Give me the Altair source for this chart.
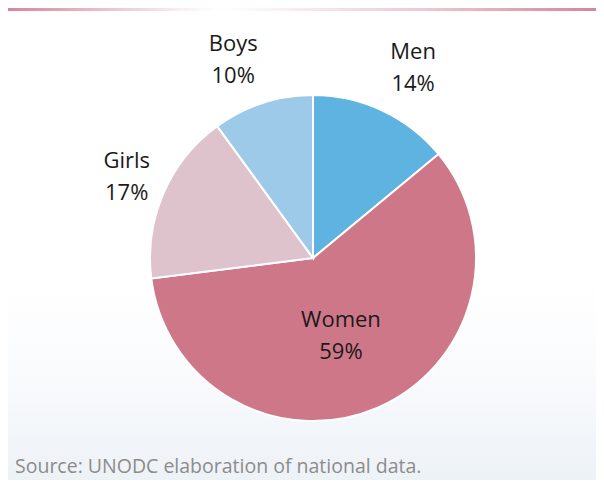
import altair as alt
import pandas as pd
import math

groups = ["Men", "Women", "Girls", "Boys"]
shares = [14, 59, 17, 10]
colors = ["#5EB3E1", "#CE7789", "#DEC3CC", "#9DCAE9"]
source_note = "Source: UNODC elaboration of national data."

df = pd.DataFrame({"group": groups, "share": shares, "ord": list(range(len(groups)))})
df["label"] = df["group"] + "\n" + df["share"].astype(str) + "%"

W, H = 588, 472
CX, CY = 305, 250
R = 163
FONT = "Open Sans"

base = alt.Chart(df)

bg = alt.Chart(pd.DataFrame({"a": [0]})).mark_rect(
    fill={
        "gradient": "linear", "x1": 0, "y1": 0, "x2": 0, "y2": 1,
        "stops": [
            {"offset": 0, "color": "#FFFFFF"},
            {"offset": 0.45, "color": "#FAFBFD"},
            {"offset": 1, "color": "#EDF2F7"},
        ],
    }
).encode(x=alt.value(-2), x2=alt.value(W), y=alt.value(270), y2=alt.value(H))

topline = alt.Chart(pd.DataFrame({"a": [0]})).mark_rect(
    fill={
        "gradient": "linear", "x1": 0, "y1": 0, "x2": 1, "y2": 0,
        "stops": [
            {"offset": 0, "color": "#D4849A"},
            {"offset": 0.15, "color": "#E8BCC8"},
            {"offset": 0.3, "color": "#FAF0F3"},
            {"offset": 0.36, "color": "#FFFFFF"},
            {"offset": 0.42, "color": "#FCF6F7"},
            {"offset": 0.7, "color": "#EDC9D2"},
            {"offset": 1, "color": "#D4849A"},
        ],
    }
).encode(x=alt.value(-2), x2=alt.value(W + 4), y=alt.value(0), y2=alt.value(3))

theta_scale = alt.Scale(domain=[0, 100], range=[0, 2 * math.pi])

pie = base.mark_arc(outerRadius=R, stroke="white", strokeWidth=2).encode(
    theta=alt.Theta("share:Q", stack=True, scale=theta_scale),
    order=alt.Order("ord:Q"),
    color=alt.Color("group:N", scale=alt.Scale(domain=groups, range=colors), legend=None),
    x=alt.value(CX),
    y=alt.value(CY),
)

mids = base.transform_window(
    cum="sum(share)", sort=[alt.SortField("ord")], frame=[None, 0]
).transform_calculate(mid="datum.cum - datum.share / 2")


def label_layer(name, radius, dx, dy):
    return mids.transform_filter(alt.datum.group == name).mark_text(
        radius=radius, dx=dx, dy=dy, font=FONT, fontSize=22, lineBreak="\n",
        lineHeight=32, align="center", baseline="middle", color="#1A1A1A",
    ).encode(
        theta=alt.Theta("mid:Q", stack=False, scale=theta_scale),
        text="label:N",
        x=alt.value(CX),
        y=alt.value(CY),
    )


labels = [
    label_layer("Men", 214, 9, -12),
    label_layer("Boys", 213, -14, -11),
    label_layer("Girls", 203, 0, -16),
    label_layer("Women", 83, -5, -14),
]

source = alt.Chart(pd.DataFrame({"t": [source_note]})).mark_text(
    font=FONT, fontSize=19.5, color="#8C8C8C", align="left", baseline="alphabetic"
).encode(text="t:N", x=alt.value(7), y=alt.value(465))

chart = alt.layer(bg, topline, pie, *labels, source).properties(
    width=W, height=H, padding=0, autosize=alt.AutoSizeParams(type="none"),
    background="white",
).configure_view(stroke=None)

chart.save("out.html", embed_options={"renderer": "svg", "actions": False})
